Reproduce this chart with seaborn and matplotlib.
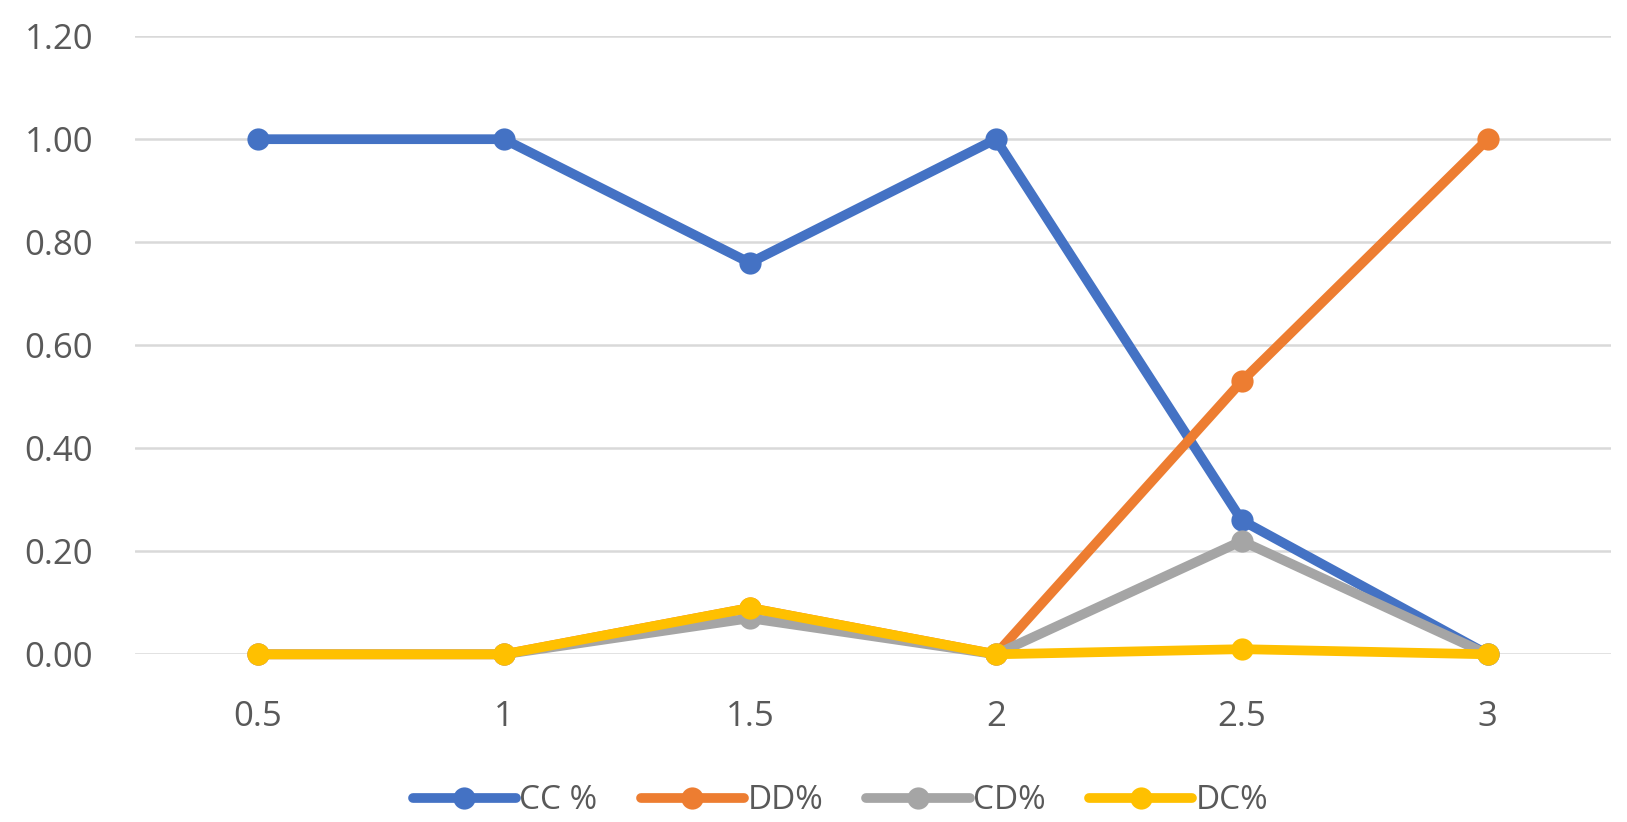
import numpy as np
import pandas as pd
import matplotlib
matplotlib.use("Agg")
import matplotlib.pyplot as plt
import seaborn as sns

# ── Data ─────────────────────────────────────────────────────────────────────
x_vals = [0.5, 1, 1.5, 2, 2.5, 3]
cc_pct = [1.00, 1.00, 0.76, 1.00, 0.26, 0.00]
dd_pct = [0.00, 0.00, 0.09, 0.00, 0.53, 1.00]
cd_pct = [0.00, 0.00, 0.07, 0.00, 0.22, 0.00]
dc_pct = [0.00, 0.00, 0.09, 0.00, 0.01, 0.00]

series_names = ["CC %", "DD%", "CD%", "DC%"]
colors = ["#4472C4", "#ED7D31", "#A5A5A5", "#FFC000"]

df = pd.DataFrame({
    "x": x_vals * 4,
    "value": cc_pct + dd_pct + cd_pct + dc_pct,
    "series": np.repeat(series_names, len(x_vals)),
})

# ── Plot ─────────────────────────────────────────────────────────────────────
sns.set_style("white")
plt.rcParams["font.family"] = ["Open Sans", "DejaVu Sans"]

fig = plt.figure(figsize=(16.27, 8.22), dpi=100)
ax = fig.add_axes([0.083, 0.204, 0.907, 0.752])

sns.lineplot(
    data=df, x="x", y="value", hue="series", hue_order=series_names,
    palette=colors, marker="o", markersize=16, markeredgewidth=0,
    linewidth=7, ax=ax, legend=True, clip_on=False,
)

ax.set_xlim(0.25, 3.25)
ax.set_ylim(0, 1.2)
ax.set_xticks(x_vals)
ax.set_xticklabels(["0.5", "1", "1.5", "2", "2.5", "3"])
ax.set_yticks(np.arange(0, 1.21, 0.2))
ax.set_yticklabels([f"{v:.2f}" for v in np.arange(0, 1.21, 0.2)])
ax.yaxis.grid(True, color="#D9D9D9", linewidth=1.8)
ax.set_axisbelow(True)
for s in ax.spines.values():
    s.set_visible(False)
ax.tick_params(axis="both", length=0, labelsize=25, colors="#595959")
ax.tick_params(axis="y", pad=30)
ax.tick_params(axis="x", pad=33)
ax.set_xlabel("")
ax.set_ylabel("")

leg = ax.legend(
    loc="center", bbox_to_anchor=(0.478, -0.237), ncol=4, frameon=False,
    fontsize=24, handlelength=3.1, columnspacing=1.3, handletextpad=0.1,
    labelcolor="#595959",
)
for h in leg.legend_handles:
    h.set_linewidth(7)
    h.set_markersize(16)

fig.savefig("out.png", dpi=100)
